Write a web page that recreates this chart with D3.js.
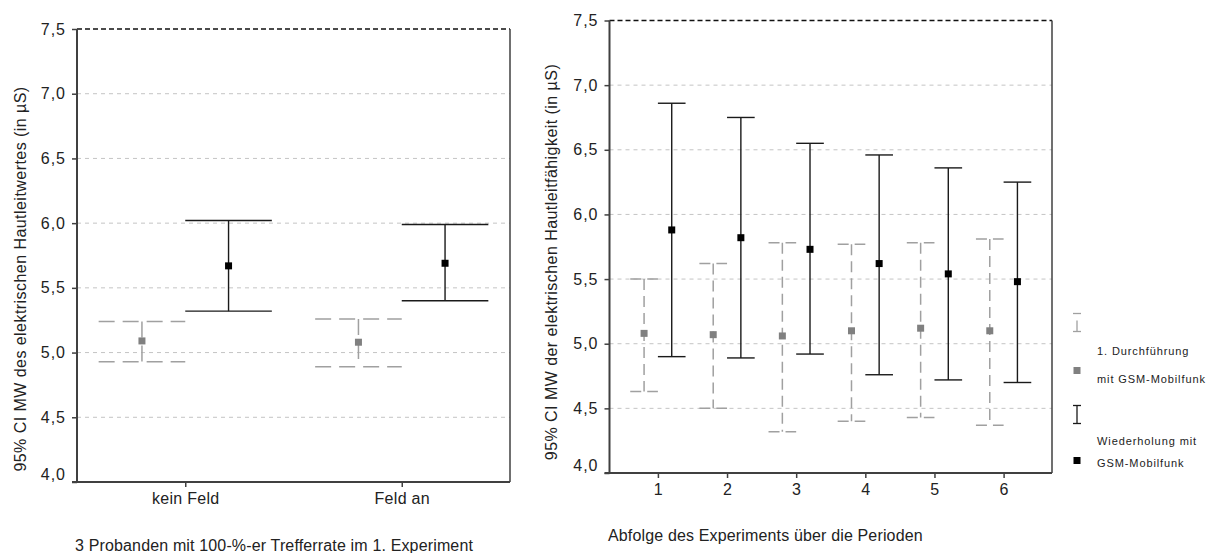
<!DOCTYPE html>
<html>
<head>
<meta charset="utf-8">
<script src="https://cdn.jsdelivr.net/npm/d3@7"></script>
<style>
  body { margin: 0; background: #fff; }
  svg { display: block; font-family: "Liberation Sans", Arial, sans-serif; }
</style>
</head>
<body>
<div id="chart"></div>
<script>
// left panel: 3 subjects, field off / on
const leftCategories = ["kein Feld", "Feld an"];
const leftFirstMean = [5.09, 5.08];
const leftFirstLow = [4.93, 4.89];
const leftFirstHigh = [5.24, 5.26];
const leftRepMean = [5.67, 5.69];
const leftRepLow = [5.32, 5.40];
const leftRepHigh = [6.02, 5.99];

// right panel: periods
const periods = ["1", "2", "3", "4", "5", "6"];
const firstMean = [5.08, 5.07, 5.06, 5.10, 5.12, 5.10];
const firstLow = [4.63, 4.50, 4.32, 4.40, 4.43, 4.37];
const firstHigh = [5.50, 5.62, 5.78, 5.77, 5.78, 5.81];
const repMean = [5.88, 5.82, 5.73, 5.62, 5.54, 5.48];
const repLow = [4.90, 4.89, 4.92, 4.76, 4.72, 4.70];
const repHigh = [6.86, 6.75, 6.55, 6.46, 6.36, 6.25];

const yTicks = [4.0, 4.5, 5.0, 5.5, 6.0, 6.5, 7.0, 7.5];

const legendLabels = [["1. Durchführung", "mit GSM-Mobilfunk"], ["Wiederholung mit", "GSM-Mobilfunk"]];

const W = 1220, H = 553;
const svg = d3.select("#chart").append("svg").attr("width", W).attr("height", H);

const fmt = (v) => d3.format(".1f")(v).replace(".", ",");
const grayLine = "#a0a0a0", graySq = "#808080", dark = "#1a1a1a", axisCol = "#404040";

function drawPanel(p) {
  const y = d3.scaleLinear().domain([4.0, 7.5]).range([p.bottom, p.top]);
  const x = d3.scalePoint().domain(p.cats).range([p.left, p.right]).padding(p.pad);
  const step = x.step();
  const g = svg.append("g");

  // grid
  g.selectAll(".grid")
    .data(yTicks.filter((t) => t > 4.0 && t < 7.5))
    .join("line")
    .attr("x1", p.left).attr("x2", p.right)
    .attr("y1", (d) => y(d)).attr("y2", (d) => y(d))
    .attr("stroke", "#c4c4c4").attr("stroke-dasharray", "4,4");

  // frame
  g.append("line").attr("x1", p.left).attr("x2", p.right).attr("y1", y(7.5)).attr("y2", y(7.5))
    .attr("stroke", "#111").attr("stroke-width", 1.3).attr("stroke-dasharray", "5,3");
  g.append("line").attr("x1", p.right).attr("x2", p.right).attr("y1", y(7.5)).attr("y2", y(4.0))
    .attr("stroke", axisCol).attr("stroke-width", 1.5);

  const yAxis = g.append("g").attr("transform", `translate(${p.left},0)`)
    .call(d3.axisLeft(y).tickValues(yTicks).tickFormat(fmt).tickSize(5).tickPadding(6));
  yAxis.select(".domain").remove();
  yAxis.attr("font-family", null);
  yAxis.selectAll("line").attr("stroke", axisCol).attr("stroke-width", 1.5);
  yAxis.selectAll("text").attr("font-size", 16).attr("letter-spacing", 1).attr("fill", "#222")
    .attr("dy", (d) => (d === 4.0 ? "-0.15em" : "0.32em"));

  const xAxis = g.append("g").attr("transform", `translate(0,${p.bottom})`)
    .call(d3.axisBottom(x).tickSize(5).tickPadding(6));
  xAxis.select(".domain").remove();
  xAxis.attr("font-family", null);
  xAxis.selectAll("line").attr("stroke", axisCol).attr("stroke-width", 1.5);
  xAxis.selectAll("text").attr("font-size", 16).attr("letter-spacing", 0.3).attr("fill", "#222");

  g.append("line").attr("x1", p.left).attr("x2", p.left).attr("y1", y(7.5)).attr("y2", y(4.0))
    .attr("stroke", axisCol).attr("stroke-width", 2);
  g.append("line").attr("x1", p.left - 5).attr("x2", p.right).attr("y1", y(4.0)).attr("y2", y(4.0))
    .attr("stroke", axisCol).attr("stroke-width", 2);

  const off = 0.2 * step, cap = 0.2 * step;
  const series = [
    { mean: p.firstMean, low: p.firstLow, high: p.firstHigh, dx: -off, col: grayLine, sq: graySq, dash: p.dash, w: 1.5 },
    { mean: p.repMean, low: p.repLow, high: p.repHigh, dx: off, col: dark, sq: "#000", dash: null, w: 1.4 },
  ];
  series.forEach((s) => {
    const sg = g.append("g");
    const idx = d3.range(p.cats.length);
    const cx = (i) => x(p.cats[i]) + s.dx;
    sg.selectAll(".wh").data(idx).join("line")
      .attr("x1", cx).attr("x2", cx)
      .attr("y1", (i) => y(s.high[i])).attr("y2", (i) => y(s.low[i]))
      .attr("stroke", s.col).attr("stroke-width", s.w).attr("stroke-dasharray", s.dash);
    ["high", "low"].forEach((k) => {
      sg.selectAll(".cap-" + k).data(idx).join("line")
        .attr("x1", (i) => cx(i) - cap).attr("x2", (i) => cx(i) + cap)
        .attr("y1", (i) => y(s[k][i])).attr("y2", (i) => y(s[k][i]))
        .attr("stroke", s.col).attr("stroke-width", s.w).attr("stroke-dasharray", s.dash);
    });
    sg.selectAll("rect").data(idx).join("rect")
      .attr("x", (i) => cx(i) - 3.5).attr("y", (i) => y(s.mean[i]) - 3.5)
      .attr("width", 7).attr("height", 7).attr("fill", s.sq);
  });

  svg.append("text")
    .attr("transform", `translate(${p.ytX},${p.ytY}) rotate(-90)`)
    .attr("text-anchor", "middle").attr("font-size", 16).attr("letter-spacing", 0.45).attr("fill", "#222")
    .text(p.yTitle);
  svg.append("text").attr("x", p.xtX).attr("y", p.xtY)
    .attr("font-size", 16).attr("letter-spacing", 0.15).attr("fill", "#222").text(p.xTitle);
}

drawPanel({
  cats: leftCategories, pad: 0.5, left: 77, right: 510, top: 29, bottom: 482,
  firstMean: leftFirstMean, firstLow: leftFirstLow, firstHigh: leftFirstHigh,
  repMean: leftRepMean, repLow: leftRepLow, repHigh: leftRepHigh, dash: "16,8",
  yTitle: "95% CI MW des elektrischen Hautleitwertes (in µS)", ytX: 26, ytY: 279,
  xTitle: "3 Probanden mit 100-%-er Trefferrate im 1. Experiment", xtX: 75, xtY: 551,
});

drawPanel({
  cats: periods, pad: 0.7, left: 609.5, right: 1052, top: 20.5, bottom: 473,
  firstMean, firstLow, firstHigh, repMean, repLow, repHigh, dash: "11,6",
  yTitle: "95% CI MW der elektrischen Hautleitfähigkeit (in µS)", ytX: 557, ytY: 262,
  xTitle: "Abfolge des Experiments über die Perioden", xtX: 608, xtY: 541,
});

// legend
const lx = 1077;
const leg = svg.append("g");
leg.append("line").attr("x1", lx - 4).attr("x2", lx + 4).attr("y1", 313.5).attr("y2", 313.5).attr("stroke", grayLine).attr("stroke-width", 1.3);
leg.append("line").attr("x1", lx).attr("x2", lx).attr("y1", 331.5).attr("y2", 313.5).attr("stroke", grayLine).attr("stroke-width", 1.3).attr("stroke-dasharray", "11,8");
leg.append("line").attr("x1", lx - 4).attr("x2", lx + 4).attr("y1", 331.5).attr("y2", 331.5).attr("stroke", grayLine).attr("stroke-width", 1.3);
leg.append("rect").attr("x", lx - 3.5).attr("y", 367).attr("width", 7).attr("height", 7).attr("fill", graySq);
leg.append("line").attr("x1", lx - 4).attr("x2", lx + 4).attr("y1", 405.5).attr("y2", 405.5).attr("stroke", dark).attr("stroke-width", 1.3);
leg.append("line").attr("x1", lx).attr("x2", lx).attr("y1", 405.5).attr("y2", 423.5).attr("stroke", dark).attr("stroke-width", 1.3);
leg.append("line").attr("x1", lx - 4).attr("x2", lx + 4).attr("y1", 423.5).attr("y2", 423.5).attr("stroke", dark).attr("stroke-width", 1.3);
leg.append("rect").attr("x", lx - 3.5).attr("y", 457).attr("width", 7).attr("height", 7).attr("fill", "#000");

const legY = [[355, 383], [445, 467]];
legendLabels.forEach((pair, i) => {
  pair.forEach((t, j) => {
    leg.append("text").attr("x", 1097).attr("y", legY[i][j])
      .attr("font-size", 11).attr("letter-spacing", 0.9).attr("fill", "#222").text(t);
  });
});
</script>
</body>
</html>
